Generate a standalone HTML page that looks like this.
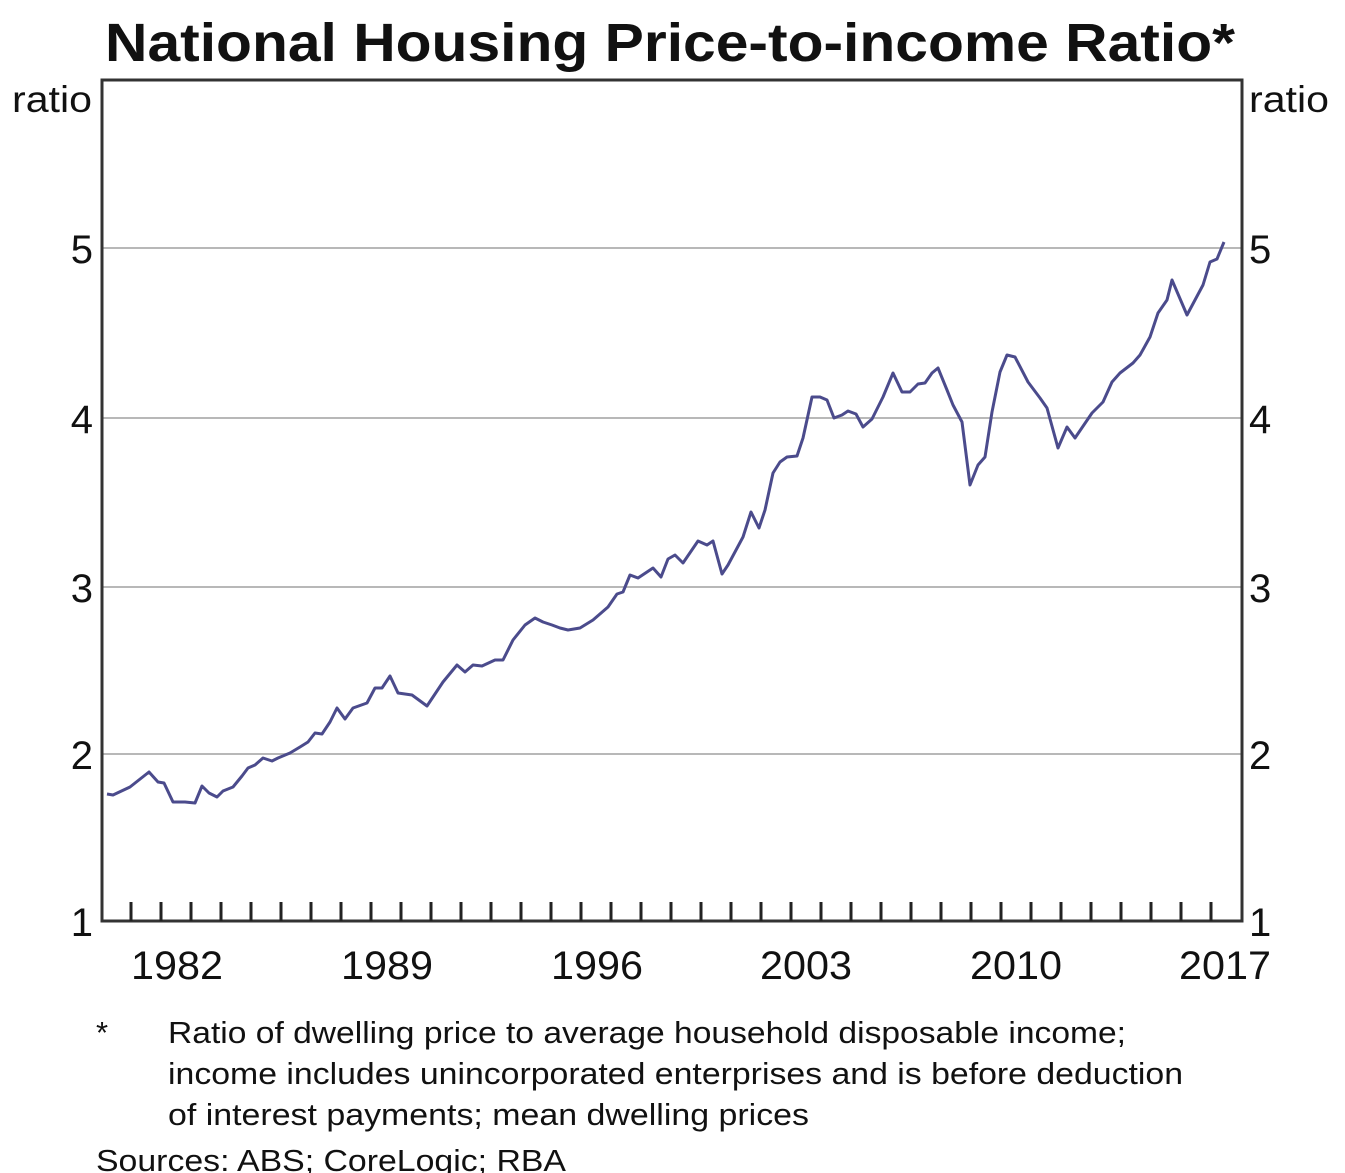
<!DOCTYPE html>
<html><head><meta charset="utf-8"><style>
html,body{margin:0;padding:0;background:#fff;}
svg{display:block;font-family:"Liberation Sans",Arial,sans-serif;}
</style></head><body>
<svg width="1345" height="1173" viewBox="0 0 1345 1173" xmlns="http://www.w3.org/2000/svg">
<rect width="1345" height="1173" fill="#fff"/>
<text x="105" y="61" font-size="54" font-weight="bold" fill="#111" textLength="1130" lengthAdjust="spacingAndGlyphs">National Housing Price-to-income Ratio*</text>
<text x="12" y="112" font-size="37" fill="#111" textLength="80" lengthAdjust="spacingAndGlyphs">ratio</text>
<text x="1249" y="112" font-size="37" fill="#111" textLength="80" lengthAdjust="spacingAndGlyphs">ratio</text>
<g stroke="#b8b8b8" stroke-width="2">
<line x1="102" y1="248" x2="1241" y2="248"/>
<line x1="102" y1="418" x2="1241" y2="418"/>
<line x1="102" y1="587" x2="1241" y2="587"/>
<line x1="102" y1="754" x2="1241" y2="754"/>
</g>
<rect x="102" y="80" width="1140" height="841" fill="none" stroke="#333" stroke-width="3"/>
<g stroke="#222" stroke-width="3">
<line x1="131" y1="902" x2="131" y2="921"/><line x1="161" y1="902" x2="161" y2="921"/><line x1="191" y1="902" x2="191" y2="921"/><line x1="221" y1="902" x2="221" y2="921"/><line x1="251" y1="902" x2="251" y2="921"/><line x1="281" y1="902" x2="281" y2="921"/><line x1="311" y1="902" x2="311" y2="921"/><line x1="341" y1="902" x2="341" y2="921"/><line x1="371" y1="902" x2="371" y2="921"/><line x1="401" y1="902" x2="401" y2="921"/><line x1="431" y1="902" x2="431" y2="921"/><line x1="461" y1="902" x2="461" y2="921"/><line x1="491" y1="902" x2="491" y2="921"/><line x1="521" y1="902" x2="521" y2="921"/><line x1="551" y1="902" x2="551" y2="921"/><line x1="581" y1="902" x2="581" y2="921"/><line x1="611" y1="902" x2="611" y2="921"/><line x1="641" y1="902" x2="641" y2="921"/><line x1="671" y1="902" x2="671" y2="921"/><line x1="701" y1="902" x2="701" y2="921"/><line x1="731" y1="902" x2="731" y2="921"/><line x1="761" y1="902" x2="761" y2="921"/><line x1="791" y1="902" x2="791" y2="921"/><line x1="821" y1="902" x2="821" y2="921"/><line x1="851" y1="902" x2="851" y2="921"/><line x1="881" y1="902" x2="881" y2="921"/><line x1="911" y1="902" x2="911" y2="921"/><line x1="941" y1="902" x2="941" y2="921"/><line x1="971" y1="902" x2="971" y2="921"/><line x1="1001" y1="902" x2="1001" y2="921"/><line x1="1031" y1="902" x2="1031" y2="921"/><line x1="1061" y1="902" x2="1061" y2="921"/><line x1="1091" y1="902" x2="1091" y2="921"/><line x1="1121" y1="902" x2="1121" y2="921"/><line x1="1151" y1="902" x2="1151" y2="921"/><line x1="1181" y1="902" x2="1181" y2="921"/><line x1="1211" y1="902" x2="1211" y2="921"/>
</g>
<g font-size="40" fill="#111">
<text x="93" y="263" text-anchor="end">5</text>
<text x="93" y="433" text-anchor="end">4</text>
<text x="93" y="602" text-anchor="end">3</text>
<text x="93" y="769" text-anchor="end">2</text>
<text x="93" y="936" text-anchor="end">1</text>
<text x="1249" y="263">5</text>
<text x="1249" y="433">4</text>
<text x="1249" y="602">3</text>
<text x="1249" y="769">2</text>
<text x="1249" y="936">1</text>
<g text-anchor="middle">
<text x="177" y="979" textLength="92" lengthAdjust="spacingAndGlyphs">1982</text>
<text x="387" y="979" textLength="92" lengthAdjust="spacingAndGlyphs">1989</text>
<text x="597" y="979" textLength="92" lengthAdjust="spacingAndGlyphs">1996</text>
<text x="806" y="979" textLength="92" lengthAdjust="spacingAndGlyphs">2003</text>
<text x="1016" y="979" textLength="92" lengthAdjust="spacingAndGlyphs">2010</text>
<text x="1225" y="979" textLength="92" lengthAdjust="spacingAndGlyphs">2017</text>
</g>
</g>
<polyline fill="none" stroke="#4b4b8c" stroke-width="3" stroke-linejoin="round" points="107,794 113,795 130,787 149,772 158,782 164,783 173,802 185,802 195,803 202,786 209,793 217,797 223,791 233,787 242,776 248,768 255,765 263,758 272,761 278,758 290,753 300,747 308,742 315,733 322,734 330,722 337,708 345,719 353,708 367,703 375,688 382,688 390,676 398,693 412,695 427,706 443,682 457,665 465,672 473,665 482,666 495,660 503,660 513,640 525,625 535,618 543,622 552,625 560,628 568,630 580,628 593,620 608,607 617,594 623,592 630,575 638,578 647,572 653,568 661,577 668,559 675,555 683,563 698,541 707,545 713,541 722,574 728,565 743,537 751,512 759,528 765,510 773,473 780,462 787,457 797,456 803,438 812,397 820,397 827,400 834,418 842,415 848,411 856,414 863,427 872,419 883,397 893,373 902,392 910,392 918,384 925,383 932,373 938,368 947,390 953,405 962,422 970,485 978,465 985,457 992,412 1000,372 1007,355 1015,357 1028,382 1040,398 1047,408 1058,448 1067,427 1075,438 1092,413 1103,402 1112,382 1120,373 1133,363 1140,355 1150,337 1158,313 1167,300 1172,280 1187,315 1195,300 1203,285 1210,262 1217,259 1224,242"/>
<g font-size="31" fill="#111">
<text x="96" y="1043">*</text>
<text x="168" y="1043" textLength="958" lengthAdjust="spacingAndGlyphs">Ratio of dwelling price to average household disposable income;</text>
<text x="168" y="1084" textLength="1015" lengthAdjust="spacingAndGlyphs">income includes unincorporated enterprises and is before deduction</text>
<text x="168" y="1125" textLength="641" lengthAdjust="spacingAndGlyphs">of interest payments; mean dwelling prices</text>
<text x="96" y="1171" textLength="470" lengthAdjust="spacingAndGlyphs">Sources: ABS; CoreLogic; RBA</text>
</g>
</svg>
</body></html>
